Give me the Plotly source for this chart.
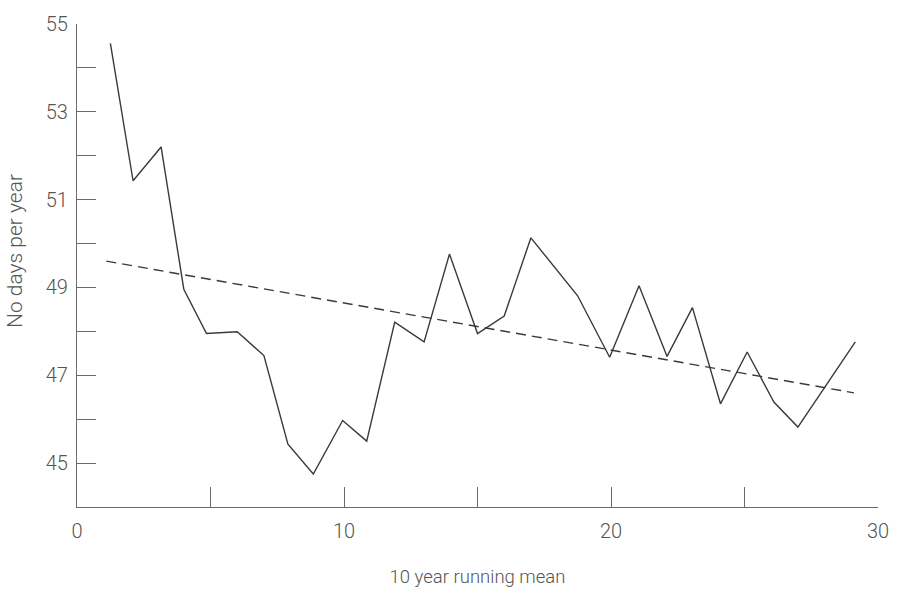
import plotly.graph_objects as go

# 10-year running mean of number of days per year
mean_x = [1.25, 2.1, 3.15, 4.0, 4.85, 6.0, 7.0, 7.9, 8.85, 9.95, 10.85, 11.9,
          13.0, 13.95, 15.0, 16.0, 17.0, 18.75, 19.95, 21.05, 22.1, 23.05,
          24.1, 25.1, 26.1, 27.0, 29.15]
mean_days = [54.56, 51.43, 52.2, 48.96, 47.95, 47.99, 47.45, 45.43, 44.75,
             45.97, 45.5, 48.21, 47.76, 49.76, 47.95, 48.35, 50.13, 48.81,
             47.41, 49.04, 47.43, 48.54, 46.35, 47.53, 46.39, 45.82, 47.76]

# Linear trend through the series
trend_x = [1.1, 29.1]
trend_days = [49.6, 46.6]

x_ticks = [0, 10, 20, 30]
y_ticks = [45, 47, 49, 51, 53, 55]

axis_col = "#6a6a6a"
text_col = "#555555"
font_family = "Roboto, Liberation Sans, sans-serif"

fig = go.Figure()
fig.add_trace(go.Scatter(
    x=mean_x, y=mean_days, mode="lines",
    line=dict(color="#3a3a3a", width=1.4),
    showlegend=False, hoverinfo="skip",
))
fig.add_trace(go.Scatter(
    x=trend_x, y=trend_days, mode="lines",
    line=dict(color="#3a3a3a", width=1.4, dash="10px,6px"),
    showlegend=False, hoverinfo="skip",
))

fig.update_layout(
    width=903, height=595,
    margin=dict(l=77, r=25, t=15, b=87),
    plot_bgcolor="white", paper_bgcolor="white",
    font=dict(family=font_family, size=20, color=text_col, weight=300),
    xaxis=dict(
        range=[0, 30], showgrid=False, zeroline=False,
        showline=True, linecolor=axis_col, linewidth=1.2,
        tickvals=x_ticks, ticktext=[str(v) for v in x_ticks],
        ticks="inside", ticklen=20, tickcolor=axis_col, tickwidth=1,
        ticklabelstandoff=6,
        minor=dict(dtick=5, tick0=0, ticks="inside", ticklen=20,
                   tickcolor=axis_col, tickwidth=1, showgrid=False),
        title=dict(text="10 year running mean", standoff=27,
                   font=dict(size=18.5, color=text_col, weight=300)),
        fixedrange=True,
    ),
    yaxis=dict(
        range=[44, 55], showgrid=False, zeroline=False,
        showline=True, linecolor=axis_col, linewidth=1.2,
        tickvals=y_ticks, ticktext=[str(v) for v in y_ticks],
        ticks="inside", ticklen=19, tickcolor=axis_col, tickwidth=1,
        ticklabelstandoff=4,
        minor=dict(dtick=1, tick0=44, ticks="inside", ticklen=19,
                   tickcolor=axis_col, tickwidth=1, showgrid=False),
        fixedrange=True,
    ),
    annotations=[dict(
        text="No days per year", textangle=-90,
        xref="paper", yref="paper", x=0, y=0.53,
        xanchor="center", yanchor="middle", xshift=-62,
        showarrow=False, font=dict(size=21, color=text_col, weight=300),
    )],
)

fig.write_html("out.html")
